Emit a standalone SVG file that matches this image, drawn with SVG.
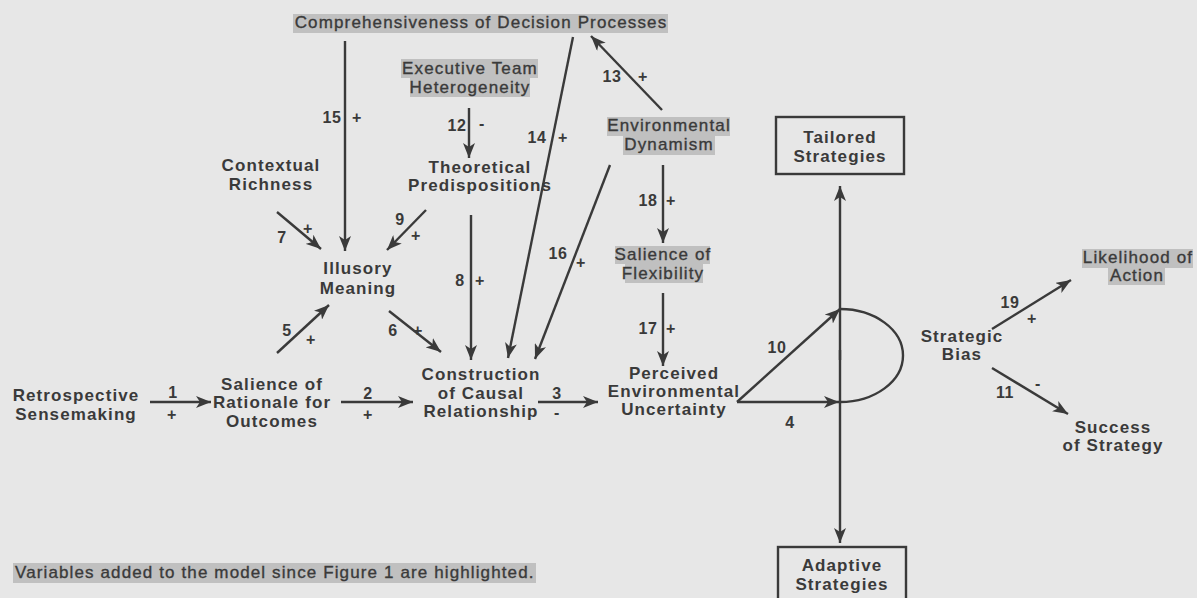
<svg xmlns="http://www.w3.org/2000/svg" width="1197" height="598" viewBox="0 0 1197 598">
<defs>
<marker id="ah" markerUnits="userSpaceOnUse" markerWidth="16" markerHeight="12" refX="15" refY="6" orient="auto">
<path d="M0,0 L15,6 L0,12 L4,6 z" fill="#3a3a3a"/>
</marker>
</defs>
<style>
text{font-family:"Liberation Sans",Arial,sans-serif;fill:#3a3a3a;font-size:17px}
.b{font-weight:bold;letter-spacing:1.1px;text-anchor:middle}
.r{letter-spacing:1.15px;text-anchor:middle;stroke:#3a3a3a;stroke-width:0.35px}
.f{letter-spacing:1.12px;stroke:#3a3a3a;stroke-width:0.35px}
.n{font-weight:bold;letter-spacing:0.5px;text-anchor:middle;font-size:16px}
.hl{fill:#c0c0c0}
.ln{stroke:#3a3a3a;stroke-width:2.4;fill:none}
.ar{marker-end:url(#ah)}
.box{fill:none;stroke:#3a3a3a;stroke-width:2.4}
</style>
<rect width="1197" height="598" fill="#e7e7e7"/>

<g id="connectors">
<line class="ln ar" x1="150" y1="402" x2="211" y2="402"/>
<line class="ln ar" x1="341" y1="402" x2="413" y2="402"/>
<line class="ln ar" x1="538" y1="402" x2="598" y2="402"/>
<line class="ln ar" x1="737" y1="402" x2="839" y2="402"/>
<line class="ln ar" x1="737" y1="402" x2="840" y2="309"/>
<path class="ln" d="M840,309 A63,46.5 0 0 1 840,402"/>
<line class="ln ar" x1="840" y1="360" x2="840" y2="186"/>
<line class="ln ar" x1="840" y1="350" x2="840" y2="543"/>
<line class="ln ar" x1="277" y1="353" x2="329" y2="305"/>
<line class="ln ar" x1="389" y1="311" x2="441" y2="352"/>
<line class="ln ar" x1="277" y1="212" x2="321" y2="249"/>
<line class="ln ar" x1="426" y1="210" x2="387" y2="250"/>
<line class="ln ar" x1="345" y1="41" x2="345" y2="251"/>
<line class="ln ar" x1="471" y1="215" x2="471" y2="360"/>
<line class="ln ar" x1="469" y1="108" x2="469" y2="158"/>
<line class="ln ar" x1="573" y1="37" x2="508" y2="358"/>
<line class="ln ar" x1="662" y1="110" x2="591" y2="36"/>
<line class="ln ar" x1="610" y1="165" x2="535" y2="359"/>
<line class="ln ar" x1="663" y1="165" x2="663" y2="243"/>
<line class="ln ar" x1="663" y1="293" x2="663" y2="366"/>
<line class="ln ar" x1="992" y1="329" x2="1071" y2="280"/>
<line class="ln ar" x1="992" y1="368" x2="1068" y2="414"/>
<g class="labels">
<text class="n" x="173" y="398">1</text><text class="n" x="172" y="420">+</text>
<text class="n" x="368" y="399">2</text><text class="n" x="368" y="420">+</text>
<text class="n" x="557" y="399">3</text><text class="n" x="557" y="418">-</text>
<text class="n" x="790" y="428">4</text>
<text class="n" x="777" y="353">10</text>
<text class="n" x="287" y="336">5</text><text class="n" x="311" y="345">+</text>
<text class="n" x="393" y="336">6</text><text class="n" x="418" y="336">+</text>
<text class="n" x="282" y="243">7</text><text class="n" x="308" y="234">+</text>
<text class="n" x="400" y="225">9</text><text class="n" x="416" y="241">+</text>
<text class="n" x="460" y="286">8</text><text class="n" x="480" y="286">+</text>
<text class="n" x="332" y="123">15</text><text class="n" x="357" y="123">+</text>
<text class="n" x="457" y="131">12</text><text class="n" x="482" y="129">-</text>
<text class="n" x="537" y="143">14</text><text class="n" x="563" y="143">+</text>
<text class="n" x="612" y="82">13</text><text class="n" x="643" y="82">+</text>
<text class="n" x="558" y="259">16</text><text class="n" x="581" y="268">+</text>
<text class="n" x="648" y="206">18</text><text class="n" x="671" y="206">+</text>
<text class="n" x="648" y="334">17</text><text class="n" x="671" y="334">+</text>
<text class="n" x="1010" y="308">19</text><text class="n" x="1032" y="324">+</text>
<text class="n" x="1005" y="398">11</text><text class="n" x="1038" y="389">-</text>
</g>
</g>

<g id="comprehensiveness">
<rect class="hl" x="293" y="14" width="375" height="19"/>
<text class="r" x="481" y="28">Comprehensiveness of Decision Processes</text>
</g>
<g id="executive-team">
<rect class="hl" x="401" y="59" width="137" height="19"/>
<rect class="hl" x="410" y="78" width="120" height="19"/>
<text class="r" x="470" y="74">Executive Team</text>
<text class="r" x="470" y="93">Heterogeneity</text>
</g>
<g id="theoretical">
<text class="b" x="480" y="173">Theoretical</text>
<text class="b" x="480" y="191">Predispositions</text>
</g>
<g id="contextual">
<text class="b" x="271" y="171">Contextual</text>
<text class="b" x="271" y="190">Richness</text>
</g>
<g id="illusory">
<text class="b" x="358" y="274">Illusory</text>
<text class="b" x="358" y="294">Meaning</text>
</g>
<g id="env-dynamism">
<rect class="hl" x="607" y="117" width="123" height="19"/>
<rect class="hl" x="623" y="136" width="92" height="19"/>
<text class="r" x="669" y="131">Environmental</text>
<text class="r" x="669" y="150">Dynamism</text>
</g>
<g id="salience-flex">
<rect class="hl" x="615" y="246" width="95" height="18"/>
<rect class="hl" x="625" y="264" width="78" height="19"/>
<text class="r" x="663" y="260">Salience of</text>
<text class="r" x="663" y="279">Flexibility</text>
</g>
<g id="retrospective">
<text class="b" x="76" y="401">Retrospective</text>
<text class="b" x="76" y="420">Sensemaking</text>
</g>
<g id="salience-rationale">
<text class="b" x="272" y="390">Salience of</text>
<text class="b" x="272" y="408">Rationale for</text>
<text class="b" x="272" y="427">Outcomes</text>
</g>
<g id="construction">
<text class="b" x="481" y="380">Construction</text>
<text class="b" x="481" y="399">of Causal</text>
<text class="b" x="481" y="417">Relationship</text>
</g>
<g id="perceived">
<text class="b" x="674" y="379">Perceived</text>
<text class="b" x="674" y="397">Environmental</text>
<text class="b" x="674" y="415">Uncertainty</text>
</g>
<g id="tailored">
<rect class="box" x="776" y="117" width="128" height="57"/>
<text class="b" x="840" y="143">Tailored</text>
<text class="b" x="840" y="162">Strategies</text>
</g>
<g id="adaptive">
<rect class="box" x="778" y="547" width="128" height="62"/>
<text class="b" x="842" y="571">Adaptive</text>
<text class="b" x="842" y="590">Strategies</text>
</g>
<g id="strategic-bias">
<text class="b" x="962" y="342">Strategic</text>
<text class="b" x="962" y="360">Bias</text>
</g>
<g id="likelihood">
<rect class="hl" x="1082" y="249" width="111" height="19"/>
<rect class="hl" x="1108" y="268" width="57" height="17"/>
<text class="r" x="1138" y="263">Likelihood of</text>
<text class="r" x="1137" y="281">Action</text>
</g>
<g id="success">
<text class="b" x="1113" y="433">Success</text>
<text class="b" x="1113" y="451">of Strategy</text>
</g>
<g id="footnote">
<rect class="hl" x="13" y="563" width="523" height="20"/>
<text class="f" x="15" y="578">Variables added to the model since Figure 1 are highlighted.</text>
</g>
</svg>
